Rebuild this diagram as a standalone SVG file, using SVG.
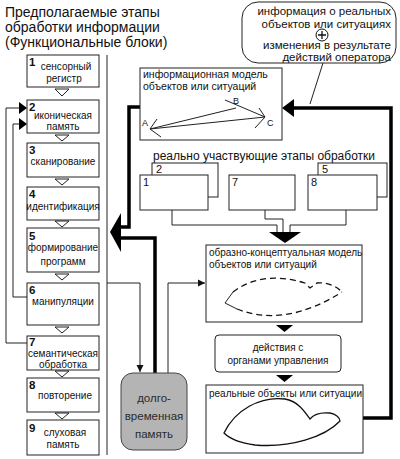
<svg xmlns="http://www.w3.org/2000/svg" width="400" height="459" viewBox="0 0 400 459">
<defs>
<style>
text{font-family:"Liberation Sans",Arial,sans-serif;fill:#111}
.t{font-size:14px}
.s{font-size:10px;text-anchor:middle}
.n{font-size:11.5px;font-weight:bold}
.m{font-size:10.5px}
.box{fill:#fff;stroke:#222;stroke-width:1}
.thin{fill:none;stroke:#222;stroke-width:1}
.thick{fill:none;stroke:#000;stroke-width:3.5}
.tri{fill:#fff;stroke:#222;stroke-width:1}
</style>
<marker id="ah" markerWidth="8" markerHeight="8" refX="7" refY="4" orient="auto" markerUnits="userSpaceOnUse">
<path d="M0,0.5 L7,4 L0,7.5 Z" fill="#111"/>
</marker>
</defs>
<rect width="400" height="459" fill="#fff"/>

<g id="title">
<text class="t" x="5" y="17">Предполагаемые этапы</text>
<text class="t" x="5" y="32">обработки информации</text>
<text class="t" x="5" y="47">(Функциональные блоки)</text>
</g>

<g id="connectors">
<line class="thin" x1="107" y1="55" x2="107" y2="455"/>
<polygon class="tri" points="55,89 69,89 62,96"/>
<polygon class="tri" points="55,135 69,135 62,141"/>
<polygon class="tri" points="55,179 69,179 62,185"/>
<polygon class="tri" points="55,221 69,221 62,227"/>
<polygon class="tri" points="55,274 69,274 62,280"/>
<polygon class="tri" points="55,327 69,327 62,333"/>
<polygon class="tri" points="55,371 69,371 62,377"/>
<polygon class="tri" points="55,413 69,413 62,419"/>
<polyline class="thin" points="27,297 13,297 13,124 26,124"/>
<polygon points="19,118 27,124 19,130" fill="#000"/>
<polyline class="thin" points="27,343 6,343 6,108 26,108"/>
<polygon points="19,102 27,108 19,114" fill="#000"/>
<polyline class="thick" points="140,107 129,107 129,227 120,227"/>
<polyline class="thick" points="120,238 155,238 155,373"/>
<polygon points="121,213 110,232 121,252" fill="#000"/>
<polyline class="thin" points="107,283 140,283 140,372" marker-end="url(#ah)"/>
<polyline class="thin" points="168,373 168,283 205,283" marker-end="url(#ah)"/>
<polyline class="thick" points="363,418 391,418 391,108 292,108"/>
<polygon points="294,99 282,108 294,117" fill="#000"/>
<line class="thin" x1="323" y1="63" x2="310" y2="104"/>
<polyline class="thin" points="172,210 172,225 277,225 277,233"/>
<polyline class="thin" points="265,210 265,219 283,219 283,233"/>
<polyline class="thin" points="346,210 346,225 290,225 290,233"/>
<polygon points="269,232 301,232 285,243" fill="#000"/>
<polygon points="276,325 293,325 284.5,332" fill="#000"/>
<polygon points="276,375 293,375 284.5,382" fill="#000"/>
</g>

<g id="b1"><rect class="box" x="27" y="55" width="72" height="32"/><text class="n" x="29" y="66">1</text><text class="s" x="66" y="70">сенсорный</text><text class="s" x="64" y="82">регистр</text></g>
<g id="b2"><rect class="box" x="27" y="100" width="72" height="33"/><text class="n" x="29" y="111">2</text><text class="s" x="63" y="119">иконическая</text><text class="s" x="63" y="130">память</text></g>
<g id="b3"><rect class="box" x="27" y="143" width="72" height="34"/><text class="n" x="29" y="154">3</text><text class="s" x="63" y="165">сканирование</text></g>
<g id="b4"><rect class="box" x="27" y="187" width="72" height="33"/><text class="n" x="29" y="198">4</text><text class="s" x="63" y="210">идентификация</text></g>
<g id="b5"><rect class="box" x="27" y="228" width="72" height="44"/><text class="n" x="29" y="240">5</text><text class="s" x="63" y="251">формирование</text><text class="s" x="63" y="265">программ</text></g>
<g id="b6"><rect class="box" x="27" y="283" width="72" height="42"/><text class="n" x="29" y="294">6</text><text class="s" x="63" y="305">манипуляции</text></g>
<g id="b7"><rect class="box" x="27" y="336" width="72" height="34"/><text class="n" x="29" y="346">7</text><text class="s" x="63" y="357">семантическая</text><text class="s" x="63" y="368">обработка</text></g>
<g id="b8"><rect class="box" x="27" y="378" width="72" height="34"/><text class="n" x="29" y="389">8</text><text class="s" x="65" y="399">повторение</text></g>
<g id="b9"><rect class="box" x="27" y="420" width="72" height="35"/><text class="n" x="29" y="432">9</text><text class="s" x="65" y="436">слуховая</text><text class="s" x="63" y="448">память</text></g>

<g id="bubble">
<rect x="242" y="2" width="154" height="61" rx="16" fill="#fff" stroke="#222" stroke-width="1"/>
<text x="391" y="15" font-size="11.5" text-anchor="end">информация о реальных</text>
<text x="391" y="28" font-size="11.5" text-anchor="end">объектов или ситуациях</text>
<circle cx="322" cy="35" r="6" fill="#fff" stroke="#111" stroke-width="1"/>
<path d="M318,35 H326 M322,31 V39" stroke="#111" stroke-width="1.3"/>
<text x="391" y="49" font-size="11.5" text-anchor="end">изменения в результате</text>
<text x="391" y="61" font-size="11.5" text-anchor="end">действий оператора</text>
</g>

<g id="infomodel">
<rect class="box" x="140" y="68" width="142" height="72"/>
<text class="m" x="143" y="78">информационная модель</text>
<text class="m" x="143" y="90">объектов или ситуаций</text>
<path class="thin" d="M150,129 L236,108 M150,129 L265,117 M225,100 L265,117 M157,119 L150,129 L161,137 M259,108 L265,117 L255,128"/>
<text x="142" y="126" font-size="9">A</text>
<text x="233" y="104" font-size="9">B</text>
<text x="267" y="126" font-size="9">C</text>
</g>

<g id="stages">
<text x="153" y="160" font-size="12">реально участвующие этапы обработки</text>
<rect class="box" x="152" y="163" width="66" height="34"/><text x="156" y="173" font-size="11">2</text>
<rect class="box" x="140" y="175" width="68" height="35"/><text x="143" y="186" font-size="11">1</text>
<rect class="box" x="229" y="175" width="66" height="35"/><text x="232" y="186" font-size="11">7</text>
<rect class="box" x="318" y="163" width="69" height="34"/><text x="322" y="173" font-size="11">5</text>
<rect class="box" x="308" y="175" width="69" height="35"/><text x="311" y="186" font-size="11">8</text>
</g>

<g id="conceptual">
<rect class="box" x="206" y="245" width="156" height="77"/>
<text x="209" y="256" font-size="10">образно-концептуальная модель</text>
<text x="209" y="268" font-size="10">объектов или ситуаций</text>
<path class="thin" stroke-width="1.3" d="M233,292 L225,303 L237,309"/>
<path fill="none" stroke="#111" stroke-width="1.3" stroke-dasharray="6,4" d="M237,309 Q285,328 342,292 M233,292 Q262,270 305,283 L310,288 L317,283 Q332,282 342,292"/>
</g>

<g id="actions">
<rect x="215" y="335" width="126" height="37" rx="4" fill="#fff" stroke="#222"/>
<text x="278" y="351" font-size="10" text-anchor="middle">действия с</text>
<text x="278" y="364" font-size="10" text-anchor="middle">органами управления</text>
</g>

<g id="real">
<rect class="box" x="206" y="385" width="157" height="68"/>
<text x="209" y="397" font-size="10">реальные объекты или ситуации</text>
<path fill="#fff" stroke="#111" stroke-width="1.3" d="M224,433 C235,410 260,396 285,399 C298,401 305,412 310,419 C314,414 320,412 330,413 C336,414 340,418 340,421 C325,437 290,448 255,445 C240,443 230,439 224,433 Z"/>
</g>

<g id="memory">
<rect x="121" y="373" width="66" height="77" rx="12" fill="#b4b4b4" stroke="#444"/>
<text x="154" y="402" font-size="11.5" text-anchor="middle" style="fill:#2a2a2a">долго-</text>
<text x="154" y="420" font-size="11.5" text-anchor="middle" style="fill:#2a2a2a">временная</text>
<text x="154" y="438" font-size="11.5" text-anchor="middle" style="fill:#2a2a2a">память</text>
</g>
</svg>
